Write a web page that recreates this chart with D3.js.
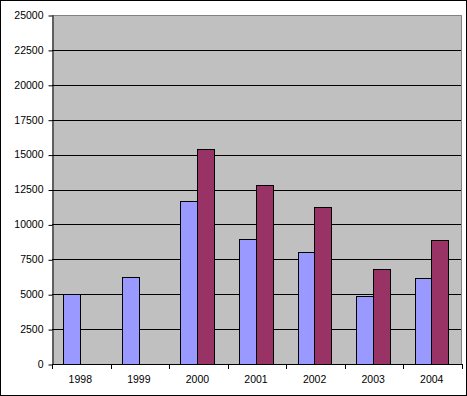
<!DOCTYPE html>
<html>
<head>
<meta charset="utf-8">
<script src="https://cdn.jsdelivr.net/npm/d3@7"></script>
<style>
	body { margin: 0; background: #fff; }
	text { font-family: "Liberation Sans", Arial, sans-serif; font-size: 10.5px; fill: #000; }
</style>
</head>
<body>
<div id="chart"></div>
<script>
// categories and series values
const years = ["1998", "1999", "2000", "2001", "2002", "2003", "2004"];
const seriesBlue = [5050, 6200, 11700, 8950, 8050, 4850, 6150];
const seriesRed = [null, null, 15400, 12800, 11250, 6800, 8880];
const yTicks = [0, 2500, 5000, 7500, 10000, 12500, 15000, 17500, 20000, 22500, 25000];

const series = [
	{ key: "blue", values: seriesBlue, color: "#9999FF" },
	{ key: "red", values: seriesRed, color: "#993366" }
];

const W = 467, H = 396;
const margin = { top: 15, right: 5, bottom: 32, left: 52 };
const width = W - margin.left - margin.right;
const height = H - margin.top - margin.bottom;

const svg = d3.select("#chart").append("svg")
	.attr("width", W)
	.attr("height", H);

// outer frame
svg.append("rect")
	.attr("x", 0.5).attr("y", 0.5)
	.attr("width", W - 1).attr("height", H - 1)
	.attr("fill", "#fff")
	.attr("stroke", "#000");

const g = svg.append("g")
	.attr("transform", "translate(" + margin.left + "," + margin.top + ")");

// scales
const x = d3.scaleBand().domain(years).range([0, width]).padding(0);
const xInner = d3.scaleBand().domain(series.map(s => s.key))
	.range([0, x.bandwidth()]).paddingInner(0).paddingOuter(0.75).align(0.45);
const y = d3.scaleLinear().domain([0, 25000]).range([height, 0]);

// plot area
g.append("rect")
	.attr("width", width)
	.attr("height", height)
	.attr("fill", "#C0C0C0");

// gridlines
g.selectAll(".grid")
	.data(yTicks.filter(t => t > 0 && t < 25000))
	.enter().append("line")
	.attr("x1", 0).attr("x2", width)
	.attr("y1", d => Math.round(y(d)) + 0.5)
	.attr("y2", d => Math.round(y(d)) + 0.5)
	.attr("stroke", "#000");

// plot border top / right (grey)
g.append("path")
	.attr("d", "M0," + 0.5 + "H" + (width - 0.5) + "V" + height)
	.attr("fill", "none")
	.attr("stroke", "#808080");

// bars
series.forEach(s => {
	g.append("g").selectAll("rect")
		.data(years.map((yr, i) => ({ year: yr, value: s.values[i] })).filter(d => d.value != null))
		.enter().append("rect")
		.attr("x", d => Math.round(x(d.year) + xInner(s.key)) + 0.5)
		.attr("y", d => Math.round(y(d.value)) + 0.5)
		.attr("width", Math.round(xInner.bandwidth()))
		.attr("height", d => Math.round(height - y(d.value)))
		.attr("fill", s.color)
		.attr("stroke", "#000");
});

// y axis
const yAxis = g.append("g")
	.attr("transform", "translate(0.5,0)")
	.call(d3.axisLeft(y).tickValues(yTicks).tickSize(4).tickSizeOuter(0).tickPadding(5)
		.tickFormat(d3.format("d")));
yAxis.selectAll("line").attr("stroke", "#000").attr("transform", "translate(0,0.5)");
yAxis.select(".domain").attr("stroke", "#000");
yAxis.selectAll("text").attr("font-family", null).attr("font-size", null);

// x axis line
g.append("line")
	.attr("x1", 0).attr("x2", width)
	.attr("y1", height + 0.5).attr("y2", height + 0.5)
	.attr("stroke", "#000");

// x ticks between categories
g.selectAll(".xtick")
	.data(years.map(d => x(d)).concat([width]))
	.enter().append("line")
	.attr("x1", d => Math.round(d) + 0.5)
	.attr("x2", d => Math.round(d) + 0.5)
	.attr("y1", height)
	.attr("y2", height + 5)
	.attr("stroke", "#000");

// x labels
const xAxis = g.append("g")
	.attr("transform", "translate(-1," + height + ")")
	.call(d3.axisBottom(x).tickSize(0).tickPadding(11.5));
xAxis.select(".domain").remove();
xAxis.selectAll("text").attr("font-family", null).attr("font-size", null);
</script>
</body>
</html>
